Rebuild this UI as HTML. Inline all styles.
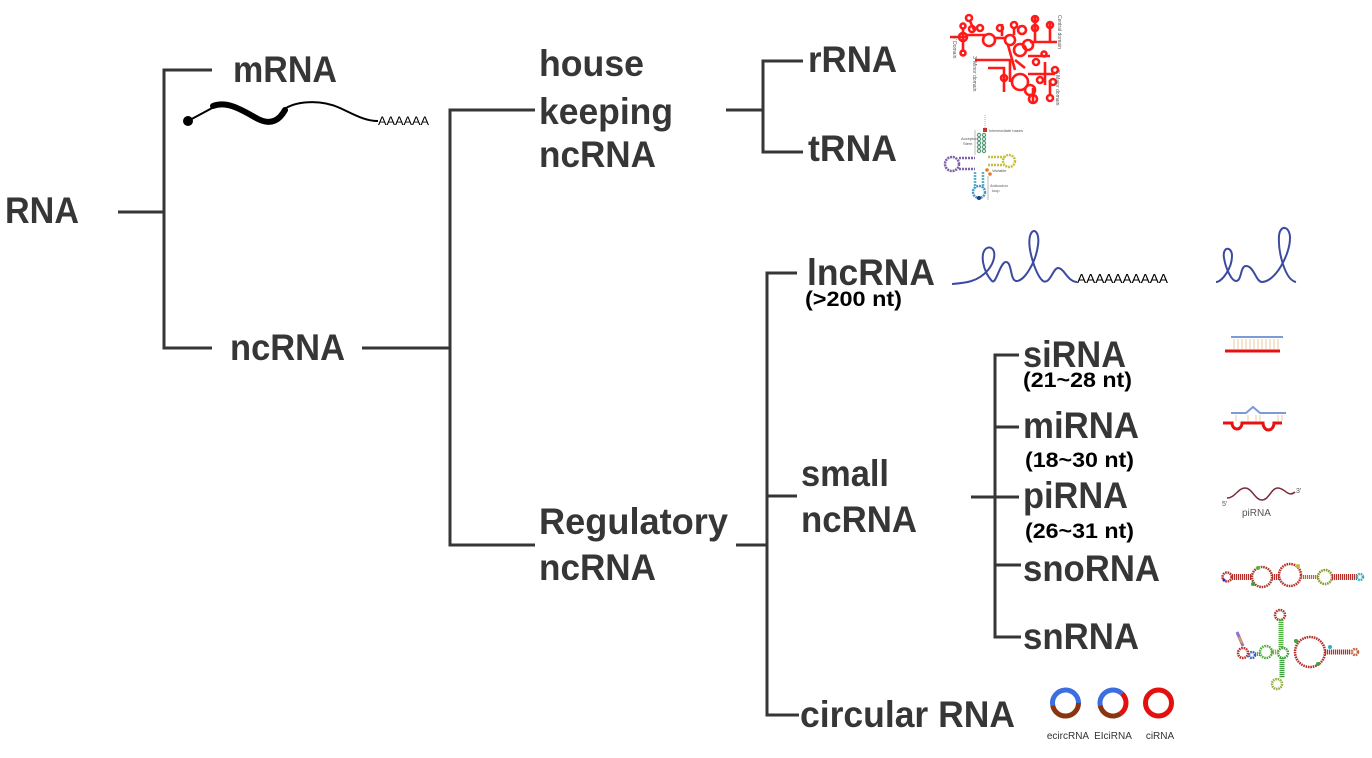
<!DOCTYPE html>
<html>
<head>
<meta charset="utf-8">
<style>
  html,body{margin:0;padding:0;background:#fff;}
  svg{display:block;}
  .lbl{font-family:"Liberation Sans",Arial,sans-serif;font-weight:bold;font-size:37px;fill:#363636;}
  .sub{font-family:"Liberation Sans",Arial,sans-serif;font-weight:bold;font-size:21px;fill:#000;}
  .ln{stroke:#363636;stroke-width:3;fill:none;}
  .tiny{font-family:"Liberation Sans",Arial,sans-serif;fill:#555;}
</style>
</head>
<body>
<svg width="1372" height="758" viewBox="0 0 1372 758" xmlns="http://www.w3.org/2000/svg">
  <rect width="1372" height="758" fill="#fff"/>

  <!-- Tree lines -->
  <path class="ln" d="M118,212 H164"/>
  <path class="ln" d="M212,70 H164 V348 H212"/>
  <path class="ln" d="M362,348 H450"/>
  <path class="ln" d="M535,110 H450 V545 H535"/>
  <path class="ln" d="M726,110 H763"/>
  <path class="ln" d="M803,61 H763 V152 H803"/>
  <path class="ln" d="M736,545 H767"/>
  <path class="ln" d="M797,273 H767 V715 H799"/>
  <path class="ln" d="M767,496 H797"/>
  <path class="ln" d="M971,497 H995"/>
  <path class="ln" d="M1019,355 H995 V637 H1021"/>
  <path class="ln" d="M995,427 H1019"/>
  <path class="ln" d="M995,497 H1019"/>
  <path class="ln" d="M995,565 H1021"/>

  <!-- Labels -->
  <text class="lbl" x="5" y="223" textLength="74" lengthAdjust="spacingAndGlyphs">RNA</text>
  <text class="lbl" x="233" y="82" textLength="104" lengthAdjust="spacingAndGlyphs">mRNA</text>
  <text class="lbl" x="230" y="360" textLength="115" lengthAdjust="spacingAndGlyphs">ncRNA</text>
  <text class="lbl" x="539" y="76" textLength="105" lengthAdjust="spacingAndGlyphs">house</text>
  <text class="lbl" x="539" y="124" textLength="134" lengthAdjust="spacingAndGlyphs">keeping</text>
  <text class="lbl" x="539" y="167" textLength="117" lengthAdjust="spacingAndGlyphs">ncRNA</text>
  <text class="lbl" x="539" y="534" textLength="189" lengthAdjust="spacingAndGlyphs">Regulatory</text>
  <text class="lbl" x="539" y="580" textLength="117" lengthAdjust="spacingAndGlyphs">ncRNA</text>
  <text class="lbl" x="808" y="72" textLength="89" lengthAdjust="spacingAndGlyphs">rRNA</text>
  <text class="lbl" x="808" y="161" textLength="89" lengthAdjust="spacingAndGlyphs">tRNA</text>
  <text class="lbl" x="807" y="285" textLength="128" lengthAdjust="spacingAndGlyphs">lncRNA</text>
  <text class="lbl" x="801" y="486" textLength="88" lengthAdjust="spacingAndGlyphs">small</text>
  <text class="lbl" x="801" y="532" textLength="116" lengthAdjust="spacingAndGlyphs">ncRNA</text>
  <text class="lbl" x="1023" y="367" textLength="103" lengthAdjust="spacingAndGlyphs">siRNA</text>
  <text class="lbl" x="1023" y="438" textLength="116" lengthAdjust="spacingAndGlyphs">miRNA</text>
  <text class="lbl" x="1023" y="508" textLength="105" lengthAdjust="spacingAndGlyphs">piRNA</text>
  <text class="lbl" x="1023" y="581" textLength="137" lengthAdjust="spacingAndGlyphs">snoRNA</text>
  <text class="lbl" x="1023" y="649" textLength="116" lengthAdjust="spacingAndGlyphs">snRNA</text>
  <text class="lbl" x="800" y="727" textLength="215" lengthAdjust="spacingAndGlyphs">circular RNA</text>

  <text class="sub" x="805" y="306" textLength="97" lengthAdjust="spacingAndGlyphs">(&gt;200 nt)</text>
  <text class="sub" x="1023" y="387" textLength="109" lengthAdjust="spacingAndGlyphs">(21~28 nt)</text>
  <text class="sub" x="1025" y="467" textLength="109" lengthAdjust="spacingAndGlyphs">(18~30 nt)</text>
  <text class="sub" x="1025" y="538" textLength="109" lengthAdjust="spacingAndGlyphs">(26~31 nt)</text>

  <!-- mRNA drawing -->
  <circle cx="188" cy="121" r="5" fill="#000"/>
  <path d="M188,121 L214,107" stroke="#000" stroke-width="2" fill="none"/>
  <path d="M213,106 C228,100 245,112 258,119 C272,126 280,119 285,110" stroke="#000" stroke-width="6" fill="none" stroke-linecap="round"/>
  <path d="M283,110 C295,101 320,99 340,108 C355,115 365,121 378,121" stroke="#000" stroke-width="2" fill="none"/>
  <text x="378" y="125" font-family="Liberation Sans, Arial, sans-serif" font-size="12" fill="#000" textLength="51" lengthAdjust="spacingAndGlyphs">AAAAAA</text>

  <!-- rRNA structure (approx.) -->
  <g stroke="#ff1a1a" stroke-width="2.6" fill="none">
    <path d="M950,37 H968"/>
    <path d="M963,28 V52"/>
    <circle cx="963" cy="37" r="4"/>
    <circle cx="963" cy="26" r="2.5"/>
    <circle cx="963" cy="53" r="2.5"/>
    <path d="M967,35 H985"/>
    <circle cx="972" cy="29" r="3"/>
    <circle cx="980" cy="28" r="3"/>
    <circle cx="989" cy="40" r="6"/>
    <circle cx="969" cy="18" r="3"/>
    <path d="M970,21 L974,30"/>
    <path d="M995,38 H1005"/>
    <circle cx="1000" cy="28" r="3"/>
    <path d="M1002,24 V36"/>
    <circle cx="1010" cy="40" r="5"/>
    <circle cx="1020" cy="50" r="6"/>
    <circle cx="1028" cy="45" r="5"/>
    <circle cx="1014" cy="25" r="3"/>
    <path d="M1014,28 V35"/>
    <circle cx="1022" cy="30" r="4"/>
    <path d="M975,60 H1010 V82"/>
    <path d="M988,68 H1004 V92"/>
    <path d="M1008,45 L1015,70"/>
    <circle cx="1020" cy="82" r="8"/>
    <circle cx="1030" cy="90" r="5"/>
    <circle cx="1033" cy="99" r="4"/>
    <path d="M1033,88 V104"/>
    <circle cx="1004" cy="78" r="3"/>
    <path d="M1028,74 H1055"/>
    <path d="M1045,62 V85"/>
    <circle cx="1055" cy="70" r="3"/>
    <circle cx="1053" cy="82" r="3"/>
    <path d="M1050,80 V96"/>
    <circle cx="1050" cy="98" r="3"/>
    <path d="M1035,15 V42"/>
    <circle cx="1035" cy="19" r="3"/>
    <circle cx="1035" cy="28" r="3"/>
    <path d="M1030,42 H1057"/>
    <path d="M1050,22 V42"/>
    <circle cx="1050" cy="25" r="3"/>
    <path d="M1028,56 H1050"/>
    <circle cx="1044" cy="54" r="2.5"/>
    <circle cx="1036" cy="62" r="3"/>
    <path d="M1015,60 L1025,68"/>
    <circle cx="1040" cy="80" r="3"/>
  </g>
  <g class="tiny" font-size="5">
    <text transform="translate(953,36) rotate(90)">5' Domain</text>
    <text transform="translate(973,56) rotate(90)">3' Minor domain</text>
    <text transform="translate(1058,15) rotate(90)">Central domain</text>
    <text transform="translate(1056,70) rotate(90)">3' Major domain</text>
  </g>

  <!-- tRNA structure (approx.) -->
  <g>
    <path d="M985,115 V128" stroke="#999" stroke-width="0.8" stroke-dasharray="1 1"/>
    <rect x="983" y="128" width="4" height="4" fill="#c0392b"/>
    <text class="tiny" x="989" y="132" font-size="4">Intermediate bases</text>
    <g fill="none" stroke="#5a9a7a" stroke-width="1.2">
      <circle cx="979" cy="135" r="1.6"/><circle cx="984" cy="135" r="1.6"/>
      <circle cx="979" cy="139" r="1.6"/><circle cx="984" cy="139" r="1.6"/>
      <circle cx="979" cy="143" r="1.6"/><circle cx="984" cy="143" r="1.6"/>
      <circle cx="979" cy="147" r="1.6"/><circle cx="984" cy="147" r="1.6"/>
      <circle cx="979" cy="151" r="1.6"/><circle cx="984" cy="151" r="1.6"/>
    </g>
    <path d="M975,130 V155" stroke="#aaa" stroke-width="0.8"/>
    <text class="tiny" x="961" y="140" font-size="4">Acceptor</text>
    <text class="tiny" x="963" y="145" font-size="4">Stem</text>
    <circle cx="952" cy="164" r="7" fill="none" stroke="#7a62a8" stroke-width="2.5" stroke-dasharray="2 0.8"/>
    <path d="M959,158 H975 M959,169 H975" stroke="#7a62a8" stroke-width="2.5" stroke-dasharray="2 1"/>
    <path d="M988,157 H1004 M988,165 H1004" stroke="#c8c040" stroke-width="2.5" stroke-dasharray="2 1"/>
    <circle cx="1009" cy="161" r="6" fill="none" stroke="#c8c040" stroke-width="2.5" stroke-dasharray="2 0.8"/>
    <circle cx="987" cy="170" r="1.8" fill="#e07a30"/>
    <circle cx="990" cy="174" r="1.8" fill="#e07a30"/>
    <text class="tiny" x="992" y="172" font-size="4">Variable</text>
    <path d="M975,172 V188 M983,172 V188" stroke="#5ab0c8" stroke-width="2.5" stroke-dasharray="2 1"/>
    <circle cx="979" cy="192" r="6" fill="none" stroke="#4a9ac0" stroke-width="2.5" stroke-dasharray="2 0.8"/>
    <circle cx="979" cy="198" r="2" fill="#1a3a8a"/>
    <path d="M988,176 V200" stroke="#aaa" stroke-width="0.8"/>
    <text class="tiny" x="990" y="187" font-size="4">Anticodon</text>
    <text class="tiny" x="992" y="192" font-size="4">loop</text>
  </g>

  <!-- lncRNA drawings -->
  <path d="M952,284 C965,283 978,282 988,270 C998,258 995,245 987,248 C979,252 983,272 992,281 C996,285 1000,262 1006,262 C1012,262 1010,280 1016,281 C1024,282 1036,262 1038,245 C1040,232 1033,226 1030,236 C1027,248 1036,276 1043,281 C1050,285 1053,268 1058,268 C1064,268 1068,282 1077,282" stroke="#3b4aa0" stroke-width="2" fill="none"/>
  <text x="1077" y="283" font-family="Liberation Sans, Arial, sans-serif" font-size="13" fill="#000" textLength="91" lengthAdjust="spacingAndGlyphs">AAAAAAAAAA</text>
  <path d="M1216,282 C1222,282 1232,268 1232,256 C1232,246 1222,246 1224,258 C1226,270 1232,281 1236,281 C1242,281 1240,266 1246,266 C1254,266 1256,282 1262,282 C1275,282 1290,255 1290,238 C1290,226 1280,224 1279,236 C1278,252 1285,280 1296,282" stroke="#3b4aa0" stroke-width="2" fill="none"/>

  <!-- siRNA icon -->
  <path d="M1231,337 H1283" stroke="#7d9bd8" stroke-width="2"/>
  <path d="M1234,339 V349 M1238,339 V349 M1242,339 V349 M1246,339 V349 M1250,339 V349 M1254,339 V349 M1258,339 V349 M1262,339 V349 M1266,339 V349 M1270,339 V349 M1274,339 V349 M1278,339 V349" stroke="#e8c8a0" stroke-width="1"/>
  <path d="M1225,351 H1280" stroke="#e81010" stroke-width="3"/>

  <!-- miRNA icon -->
  <path d="M1231,413 H1246 L1253,407 L1260,413 H1286" stroke="#7d9bd8" stroke-width="2" fill="none"/>
  <path d="M1236,415 V421 M1248,415 V421 M1256,415 V421 M1260,415 V421 M1278,415 V421 M1282,415 V421" stroke="#e8c8a0" stroke-width="1"/>
  <path d="M1223,423 H1232 A5,6 0 0 0 1242,423 H1263 A5.5,7 0 0 0 1274,423 H1282" stroke="#e81010" stroke-width="3" fill="none"/>

  <!-- piRNA icon -->
  <path d="M1227,498 C1235,498 1238,488 1245,488 C1252,488 1255,500 1262,500 C1269,500 1271,488 1278,488 C1285,488 1288,498 1295,492" stroke="#7b2d3b" stroke-width="1.5" fill="none"/>
  <text class="tiny" x="1222" y="506" font-size="7">5'</text>
  <text class="tiny" x="1296" y="493" font-size="7">3'</text>
  <text class="tiny" x="1242" y="516" font-size="10" fill="#555">piRNA</text>

  <!-- snoRNA structure -->
  <g fill="none" stroke-width="2.5" stroke-dasharray="1.6 0.8">
    <circle cx="1227" cy="577" r="4.5" stroke="#b5302a"/>
    <path d="M1232,577 H1252" stroke="#b5302a" stroke-width="6" stroke-dasharray="1.2 0.8"/>
    <circle cx="1262" cy="577" r="10" stroke="#a83a2a"/>
    <path d="M1272,577 H1280" stroke="#b5302a" stroke-width="6" stroke-dasharray="1.2 0.8"/>
    <circle cx="1290" cy="575" r="11" stroke="#b5302a"/>
    <path d="M1301,577 H1318" stroke="#c06040" stroke-width="4" stroke-dasharray="1.2 0.8"/>
    <circle cx="1325" cy="577" r="7" stroke="#8a9a30"/>
    <path d="M1332,577 H1358" stroke="#b5302a" stroke-width="6" stroke-dasharray="1.2 0.8"/>
    <circle cx="1360" cy="577" r="3" stroke="#30b0c0"/>
  </g>
  <circle cx="1258" cy="568" r="2" fill="#60b040"/>
  <circle cx="1253" cy="584" r="2" fill="#40a040"/>
  <circle cx="1298" cy="566" r="2" fill="#c0c030"/>
  <circle cx="1224" cy="580" r="1.5" fill="#2030c0"/>

  <!-- snRNA structure -->
  <g fill="none" stroke-width="2.5" stroke-dasharray="1.6 0.8">
    <circle cx="1280" cy="615" r="5" stroke="#b5302a"/>
    <path d="M1281,620 V648" stroke="#50b040" stroke-width="5" stroke-dasharray="1.2 0.8"/>
    <circle cx="1283" cy="653" r="5" stroke="#40a040"/>
    <circle cx="1310" cy="652" r="15" stroke="#b5302a"/>
    <path d="M1325,652 H1351" stroke="#b5302a" stroke-width="5" stroke-dasharray="1.2 0.8"/>
    <circle cx="1355" cy="652" r="3" stroke="#c06040"/>
    <path d="M1271,652 H1278" stroke="#c0a030" stroke-width="5" stroke-dasharray="1.2 0.8"/>
    <circle cx="1266" cy="652" r="6" stroke="#50b040"/>
    <path d="M1255,654 H1260" stroke="#50a060" stroke-width="4" stroke-dasharray="1.2 0.8"/>
    <circle cx="1252" cy="655" r="3" stroke="#3060c0"/>
    <circle cx="1243" cy="653" r="5" stroke="#b5302a"/>
    <path d="M1282,658 V678" stroke="#40a040" stroke-width="5" stroke-dasharray="1.2 0.8"/>
    <circle cx="1277" cy="684" r="5" stroke="#90b040"/>
  </g>
  <path d="M1237,632 L1243,646" stroke="#9070d0" stroke-width="3"/>
  <path d="M1239,637 L1242,643" stroke="#e0a040" stroke-width="2"/>
  <circle cx="1296" cy="641" r="2" fill="#40a040"/>
  <circle cx="1318" cy="664" r="2" fill="#40a040"/>
  <circle cx="1330" cy="647" r="2" fill="#30b0c0"/>

  <!-- circular RNAs -->
  <g fill="none" stroke-width="5">
    <path d="M1052.7,705.3 A13,13 0 1 1 1078.5,703" stroke="#3b6fe0"/>
    <path d="M1078.5,703 A13,13 0 0 1 1052.7,705.3" stroke="#8a3510"/>
    <path d="M1100.2,705.3 A13,13 0 0 1 1122,693.6" stroke="#3b6fe0"/>
    <path d="M1122,693.6 A13,13 0 0 1 1120.5,713.6" stroke="#e31010"/>
    <path d="M1120.5,713.6 A13,13 0 0 1 1100.2,705.3" stroke="#8a3510"/>
    <circle cx="1158.5" cy="703" r="13" stroke="#e31010"/>
  </g>
  <g font-family="Liberation Sans, Arial, sans-serif" font-size="10" fill="#333" text-anchor="middle">
    <text x="1068" y="739">ecircRNA</text>
    <text x="1113" y="739">EIciRNA</text>
    <text x="1160" y="739">ciRNA</text>
  </g>
</svg>
</body>
</html>
